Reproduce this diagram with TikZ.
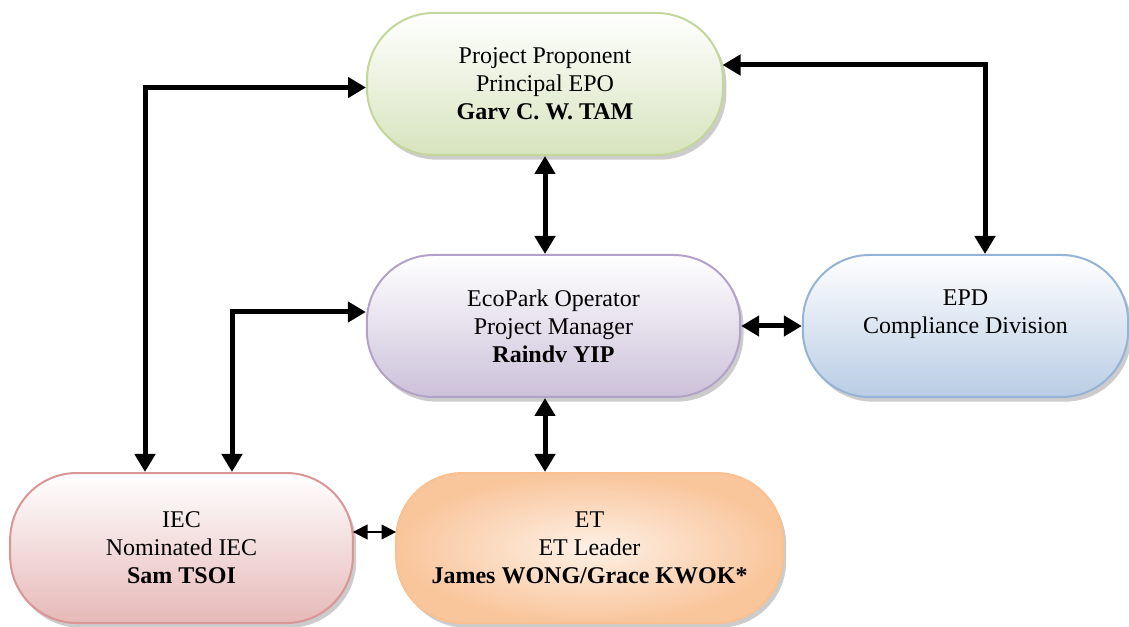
\documentclass[tikz,border=0pt]{standalone}
\usepackage{fontspec}
\setmainfont{Liberation Serif}
\usetikzlibrary{arrows.meta,calc,shadows}
\definecolor{ppLine}{HTML}{C3D69B}
\definecolor{ppFill}{HTML}{D7E4BD}
\definecolor{opLine}{HTML}{B3A2C7}
\definecolor{opFill}{HTML}{CCC1DA}
\definecolor{epdLine}{HTML}{95B3D7}
\definecolor{epdFill}{HTML}{B9CDE5}
\definecolor{iecLine}{HTML}{D99694}
\definecolor{iecFill}{HTML}{E6B9B8}
\definecolor{etLine}{HTML}{FAC090}
\definecolor{etFill}{HTML}{F9C59B}
\tikzset{
	unit/.style={rectangle, rounded corners=50pt, line width=1.5pt, align=center,
		font=\fontsize{18}{21}\selectfont,
		drop shadow={shadow xshift=2.5pt, shadow yshift=-3.5pt, fill=black!40}},
	link/.style={line width=3.75pt, <->, >={Triangle[length=13.5pt,width=15pt]}},
	thinlink/.style={line width=1.6pt, <->, >={Triangle[length=11pt,width=11pt]}}
}
\newcommand{\unitbox}[7]{\node[unit, draw=#4, #5, minimum width=#6, minimum height=#7] (#1) at (#2) {#3};}

\begin{document}
\begin{tikzpicture}[x=0.75pt, y=-0.75pt]
		\useasboundingbox (0,0) rectangle (1129,627);

		% boxes
		\unitbox{pp}{545,84}{Project Proponent\\Principal EPO\\\textbf{Garv C. W. TAM}}{ppLine}{top color=white, bottom color=ppFill}{267pt}{106.5pt}
		\unitbox{op}{553.5,326}{EcoPark Operator\\Project Manager\\\textbf{Raindv YIP}}{opLine}{top color=white, bottom color=opFill}{280pt}{106.5pt}
		\unitbox{epd}{965.5,326}{EPD\\Compliance Division\\\mbox{}}{epdLine}{top color=white, bottom color=epdFill}{244pt}{106.5pt}
		\unitbox{iec}{181.5,548}{IEC\\Nominated IEC\\\textbf{Sam TSOI}}{iecLine}{top color=white, bottom color=iecFill}{257pt}{112.5pt}
		\unitbox{et}{589.5,548}{ET\\ET Leader\\\textbf{James WONG/Grace KWOK*}}{etLine}{inner color=etFill!25, outer color=etFill}{290pt}{112.5pt}

		% links
		\draw[link] ($(pp.west)+(0,3.5)$) -| ($(iec.north)+(-36.5,0)$);
		\draw[link] ($(op.west)+(0,-14)$) -| ($(iec.north)+(50.5,0)$);
		\draw[link] ($(pp.east)+(-1.5,-19)$) -| ($(epd.north)+(19.5,0)$);
		\draw[link] (pp.south) -- (pp.south |- op.north);
		\draw[link] (pp.south |- op.south) -- (pp.south |- et.north);
		\draw[link] (op.east) -- (epd.west);
		\draw[thinlink] ($(iec.east)+(-1,-16)$) -- ($(et.west)+(1,-16)$);
	\end{tikzpicture}
\end{document}
